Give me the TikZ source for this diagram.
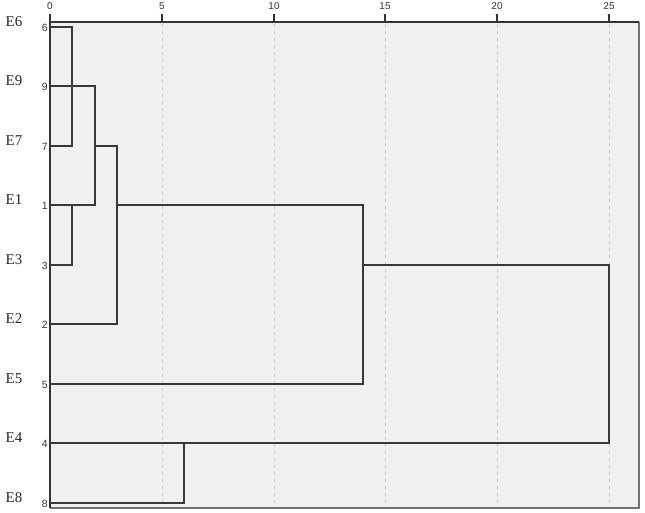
\documentclass[tikz,border=0pt]{standalone}
\usepackage{fontspec}
\setmainfont{Liberation Serif}
\newfontfamily\numfont{Liberation Sans}
\begin{document}
\begin{tikzpicture}[x=1bp,y=-1bp,
  dend/.style={draw=black!78, line width=1.6bp, line join=miter},
  grid/.style={draw=black!22, line width=1bp, dash pattern=on 3bp off 4bp},
  tickmark/.style={draw=black!80, line width=1.6bp},
  ticklab/.style={font=\numfont\fontsize{10}{10}\selectfont, text=black!80, inner sep=0pt},
  rowlab/.style={font=\numfont\fontsize{10.5}{10.5}\selectfont, text=black!80, inner sep=0pt, anchor=east},
  elab/.style={font=\fontsize{15}{15}\selectfont, text=black!85, inner sep=0pt}]
\useasboundingbox (0,0) rectangle (645,513);
% plot area
\fill[black!6] (50,22) rectangle (639,508);
% grid
\foreach \d in {5,10,15,20,25}{
  \draw[grid] ({round(50+22.36*\d)},24) -- ({round(50+22.36*\d)},507);
}
% frame
\draw[draw=black!55, line width=1.2bp] (50,508) -- (639,508) -- (639,22);
\draw[draw=black!80, line width=2bp] (50,508) -- (50,22) -- (639,22);
% ticks and labels
\foreach \d in {0,5,10,15,20,25}{
  \draw[tickmark] ({round(50+22.36*\d)},14) -- ({round(50+22.36*\d)},22);
  \node[ticklab] (t\d) at ({round(50+22.36*\d)},6) {\d};
}
% leaves
\foreach \n/\y/\e in {6/27/E6,9/86/E9,7/146/E7,1/205/E1,3/265/E3,2/324/E2,5/384/E5,4/443/E4,8/503/E8}{
  \coordinate (L\n) at (50,\y);
  \node[rowlab] (r\n) at (48,\y+1) {\n};
  \node[elab] (e\n) at (14,\y-5) {\e};
}
% merge positions
\def\da{72}\def\db{95}\def\dc{117}\def\df{184}\def\dn{363}\def\dt{609}
\coordinate (a1) at (\da,27);
\coordinate (a2) at (\da,146);
\coordinate (b1) at (\db,86);
\coordinate (b2) at (\db,205);
\coordinate (c0) at (\da,205);
\coordinate (c1) at (\da,265);
\coordinate (d0) at (\db,146);
\coordinate (d1) at (\dc,146);
\coordinate (d2) at (\dc,324);
\coordinate (n0) at (\dc,205);
\coordinate (n1) at (\dn,205);
\coordinate (n2) at (\dn,384);
\coordinate (t0) at (\dn,265);
\coordinate (tt1) at (\dt,265);
\coordinate (tt2) at (\dt,443);
\coordinate (f1) at (\df,503);
\coordinate (f2) at (\df,443);
% dendrogram
\draw[dend] (L6) -- (a1) -- (a2) -- (L7);
\draw[dend] (L9) -- (b1) -- (b2) -- (L1);
\draw[dend] (c0) -- (c1) -- (L3);
\draw[dend] (d0) -- (d1) -- (d2) -- (L2);
\draw[dend] (n0) -- (n1) -- (n2) -- (L5);
\draw[dend] (t0) -- (tt1) -- (tt2) -- (L4);
\draw[dend] (L8) -- (f1) -- (f2);
\end{tikzpicture}
\end{document}
